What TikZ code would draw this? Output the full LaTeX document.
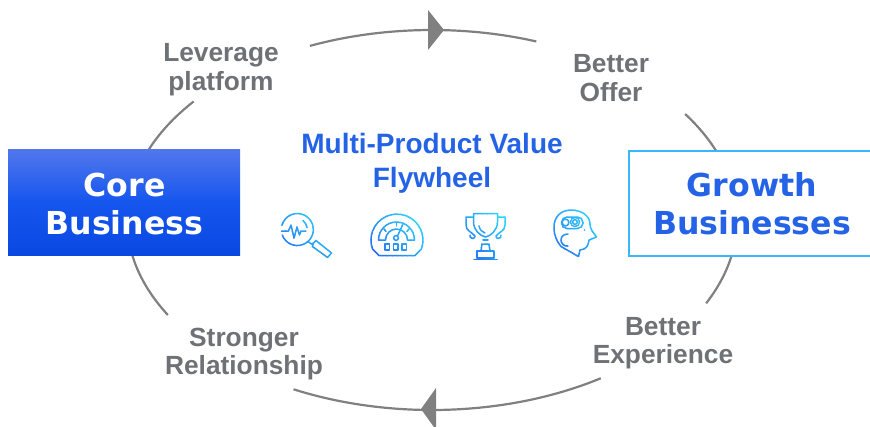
\documentclass[tikz,border=0pt]{standalone}
\usepackage{fontspec}
\setmainfont{Liberation Sans}
\newfontfamily\boxfont{DejaVu Sans}
\definecolor{arcgray}{HTML}{808080}
\definecolor{labelgray}{HTML}{6E7175}
\definecolor{titleblue}{HTML}{2563E6}
\definecolor{boxedge}{HTML}{38B6FF}
\definecolor{icondark}{HTML}{2468F0}
\definecolor{iconlight}{HTML}{2FDCFF}
\definecolor{coretop}{HTML}{5277EC}
\definecolor{coremid}{HTML}{1556EE}
\definecolor{corebot}{HTML}{0A48E2}
\tikzset{
  flow/.style={draw=arcgray,line width=2.2pt},
  head/.style={fill=arcgray},
  step label/.style={font=\bfseries\fontsize{26.3}{28.5}\selectfont,text=labelgray,align=center,inner sep=0pt},
  box label/.style={font=\boxfont\bfseries\fontsize{31.6}{38}\selectfont,align=center,inner sep=0pt},
  ink/.style={line width=1.5pt,line cap=round,line join=round},
}
% an icon whose strokes run from blue (lower left) to cyan (upper right)
\newcommand{\gradicon}[4]{%
  \foreach \i in {0,...,17}{%
    \pgfmathtruncatemacro{\pct}{100*\i/17}%
    \pgfmathsetmacro{\ua}{-#3+\i*(2*#3)/18}%
    \pgfmathsetmacro{\ub}{\ua+(2*#3)/18+0.3}%
    \begin{scope}
      \clip[shift={(#1,#2)},rotate=45] (\ua,-60) rectangle (\ub,60);
      \colorlet{inkc}{iconlight!\pct!icondark}
      \begin{scope}[ink,draw=inkc]
        #4
      \end{scope}
    \end{scope}
  }%
}
\begin{document}
\begin{tikzpicture}[x=1pt,y=-1pt]
\useasboundingbox (0,0) rectangle (870,426);
% flywheel ring
\draw[flow] plot[smooth,samples=30,domain=246.4:290] ({432+305*cos(\x)},{220+190*sin(\x)});
\draw[flow] plot[smooth,samples=20,domain=-33.9:-18] ({432+305*cos(\x)},{220+190*sin(\x)});
\draw[flow] plot[smooth,samples=20,domain=8:26] ({432+305*cos(\x)},{220+190*sin(\x)});
\draw[flow] plot[smooth,samples=30,domain=56.4:117] ({432+305*cos(\x)},{220+190*sin(\x)});
\draw[flow] plot[smooth,samples=20,domain=150:172] ({432+305*cos(\x)},{220+190*sin(\x)});
\draw[flow] plot[smooth,samples=20,domain=198:218.6] ({432+305*cos(\x)},{220+190*sin(\x)});
\fill[head] (428,10) -- (444,30) -- (428,50) -- cycle;
\fill[head] (436,388) -- (421,409) -- (436,430) -- cycle;
% boxes
\node[draw=none,minimum width=232pt,minimum height=106pt,inner sep=0pt,anchor=north west,
      top color=coretop,bottom color=corebot,middle color=coremid] (core) at (8,149) {};
\node[box label,text=white] (coretext) at (124.5,204) {Core\\Business};
\node[draw=boxedge,fill=white,line width=2.1pt,minimum width=260pt,minimum height=105pt,inner sep=0pt,anchor=north west] (growth) at (627.5,149.5) {};
\node[box label,text=titleblue] (growthtext) at (752,204) {Growth\\Businesses};
% labels
\node[step label] (lev) at (221,69.5) {Leverage\\platform};
\node[step label] (off) at (611,78) {Better\\Offer};
\node[step label] (exp) at (663,343) {Better\\Experience};
\node[step label] (rel) at (244,354) {Stronger\\Relationship};
\node[font=\bfseries\fontsize{28}{34}\selectfont,text=titleblue,align=center,inner sep=0pt] (title) at (432,163) {Multi-Product Value\\Flywheel};
% icons
\gradicon{305}{235}{32}{
  \draw (282.3,235) arc[start angle=160,end angle=-165,radius=16];
  \draw (281.5,231) -- (288.5,231) -- (291,225) -- (294,238) -- (297,227) -- (299.5,235) -- (301,231) -- (306,231);
  \draw (303,220.5) arc[start angle=-50,end angle=-10,radius=12];
  \draw (308,241.5) -- (313,245);
  \draw (313,243.5) -- (316,240.5) -- (331.5,253) -- (327.5,257.5) -- (312.5,246.5) -- cycle;
}
\gradicon{397}{236}{32}{
  \draw (379,255.5) -- (415,255.5) -- (421.4,249) arc[start angle=20,end angle=-200,radius=26] -- cycle;
  \draw (378.5,240) arc[start angle=180,end angle=360,radius=18] -- (407.5,240) arc[start angle=0,end angle=-180,radius=11] -- cycle;
  \draw (384,229) -- (386,231.5); \draw (396.5,222.5) -- (396.5,226); \draw (409,229) -- (407,231.5);
  \draw (396,238) circle[radius=2.4];
  \draw (397.5,236) -- (403,224);
  \draw (385,244) rectangle (389.5,250);
  \draw (393.5,244) rectangle (398,250);
  \draw (402,244) rectangle (406.5,250);
}
\gradicon{485}{237}{32}{
  \draw (473.5,213.5) -- (497.5,213.5) -- (497.5,222) .. controls (497.5,230) and (491,236) .. (485.5,237) .. controls (480,236) and (473.5,230) .. (473.5,222) -- cycle;
  \draw (479,226) .. controls (480,230) and (482,232) .. (485,233);
  \draw (473,217) -- (466,217) -- (466,225) .. controls (466,231) and (472,232) .. (475,236) arc[start angle=0,end angle=200,radius=2.5];
  \draw (498,217) -- (505,217) -- (505,225) .. controls (505,231) and (499,232) .. (496,236) arc[start angle=180,end angle=-20,radius=2.5];
  \draw (483,240) -- (488,240);
  \draw (482,244) -- (489,244) -- (490,251) -- (481,251) -- cycle;
  \draw (477,251) rectangle (494,258);
  \draw (474,259.5) -- (497,259.5);
}
\gradicon{575}{235}{32}{
  \draw (561,246.5) -- (578.5,256.5) -- (580,250) .. controls (586,249) and (588,247) .. (589,240) -- (596.5,237) .. controls (593,232) and (590,229) .. (590,224)
    .. controls (590,215) and (580,210) .. (571,210) .. controls (560,210) and (554,218) .. (554,227) .. controls (554,235) and (556,240) .. (561,246.5);
  \draw[rounded corners=5.5pt] (561.5,217) rectangle (583,228.5);
  \draw (565.5,222.5) circle[radius=3.4];
  \draw (575,222) circle[radius=2.4];
  \draw[dash pattern=on 1.3pt off 1.1pt] (575,222) circle[radius=4.6];
  \draw (568,234.2) arc[start angle=-80,end angle=-280,radius=6];
  \fill[inkc] (584.5,230) circle[radius=0.9];
}
\end{tikzpicture}
\end{document}
